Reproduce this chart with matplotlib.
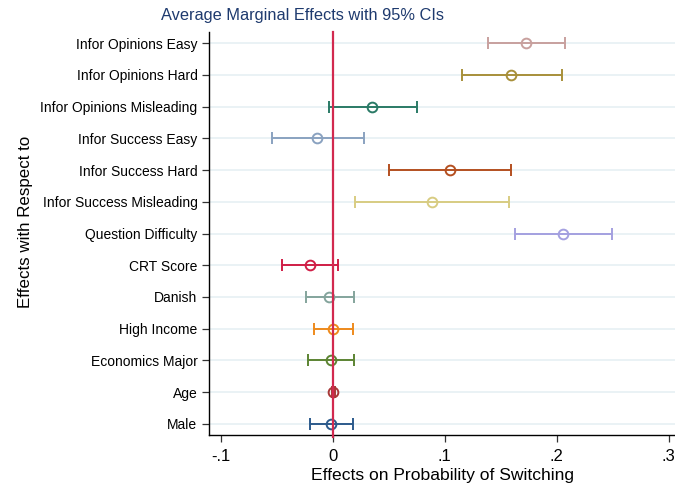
import matplotlib
matplotlib.use('Agg')
import matplotlib.pyplot as plt

plt.rcParams['font.family'] = ['Liberation Sans', 'DejaVu Sans']

labels = ['Infor Opinions Easy', 'Infor Opinions Hard', 'Infor Opinions Misleading',
          'Infor Success Easy', 'Infor Success Hard', 'Infor Success Misleading',
          'Question Difficulty', 'CRT Score', 'Danish', 'High Income',
          'Economics Major', 'Age', 'Male']
effect = [0.1726, 0.1592, 0.0354, -0.0137, 0.1045, 0.0884, 0.2060,
          -0.0203, -0.0030, 0.0003, -0.0018, 0.0005, -0.0015]
lower = [0.1384, 0.1152, -0.0030, -0.0540, 0.0506, 0.0199, 0.1628,
         -0.0453, -0.0238, -0.0164, -0.0218, -0.0010, -0.0203]
upper = [0.2074, 0.2050, 0.0750, 0.0280, 0.1590, 0.1577, 0.2497,
         0.0050, 0.0187, 0.0178, 0.0193, 0.0020, 0.0184]
colors = ['#c8a09e', '#a8903a', '#2a7a66', '#8aa2c0', '#b44f20', '#d8cc82',
          '#a4a0e0', '#d01e46', '#84a49c', '#ee8a1c', '#5c8432', '#a83838', '#2c5a8c']
xticks = [-0.1, 0, 0.1, 0.2, 0.3]
xticklabels = ['-.1', '0', '.1', '.2', '.3']

fig = plt.figure(figsize=(6.75, 4.86), dpi=100)
ax = fig.add_axes([0.310, 0.105, 0.690, 0.829])

n = len(labels)
ypos = list(range(n))
for y in ypos:
    ax.axhline(y, color='#e8f1f5', lw=1.3, zorder=0)

for y, m, lo, hi, c in zip(ypos, effect, lower, upper, colors):
    ax.errorbar(m, y, xerr=[[m - lo], [hi - m]], fmt='o', color=c,
                mfc='none', mec=c, mew=1.4, ms=7, elinewidth=1.4,
                capsize=4.3, capthick=1.4, zorder=2)

ax.axvline(0, color='#d2294f', lw=1.6, zorder=3, clip_on=False,
           ymin=-0.005, ymax=1.0)

ax.set_xlim(-0.1102, 0.3056)
ax.set_ylim(n - 1 + 0.35, -0.35)
ax.set_yticks(ypos)
ax.set_yticklabels(labels, fontsize=10)
ax.set_xticks(xticks)
ax.set_xticklabels(xticklabels, fontsize=12)

for s in ['top', 'right']:
    ax.spines[s].set_visible(False)
ax.spines['left'].set_linewidth(1.0)
ax.spines['bottom'].set_linewidth(1.0)
ax.tick_params(axis='both', direction='out', length=5, width=0.9, color='#333333')
ax.tick_params(axis='x', pad=5)

ax.set_xlabel('Effects on Probability of Switching', fontsize=12.6, labelpad=3)
ax.set_ylabel('Effects with Respect to', fontsize=12.2)
ax.yaxis.set_label_coords(-0.378, 0.528)
fig.text(0.448, 0.968, 'Average Marginal Effects with 95% CIs', fontsize=11.8,
         color='#1e3a6e', ha='center', va='center')

fig.savefig('out.png', dpi=100)
